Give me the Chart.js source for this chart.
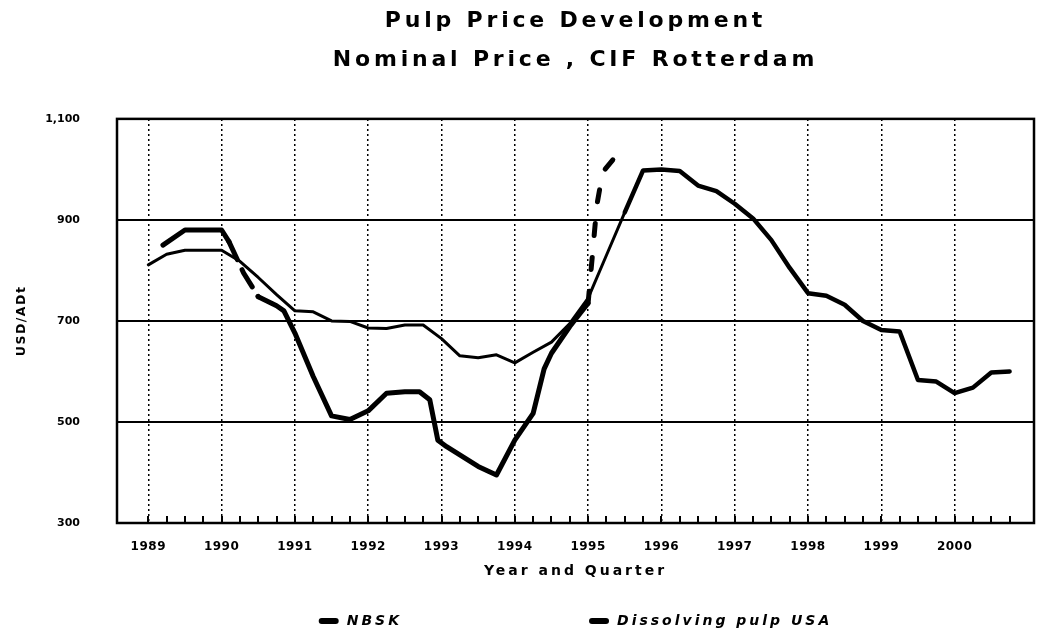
<!DOCTYPE html>
<html>
<head>
<meta charset="utf-8">
<script src="https://cdn.jsdelivr.net/npm/chart.js@4.4.1/dist/chart.umd.min.js"></script>
<style>
  html, body { margin: 0; padding: 0; background: #ffffff; }
  #wrap { width: 1038px; height: 635px; }
</style>
</head>
<body>
<div id="wrap"><canvas id="chart" width="1038" height="635"></canvas></div>
<script>
// ---------------- data ----------------
const titleLines = ['Pulp Price Development', 'Nominal Price , CIF Rotterdam'];
const yAxisTitle = 'USD/ADt';
const xAxisTitle = 'Year and Quarter';
const yearTicks = [1989, 1990, 1991, 1992, 1993, 1994, 1995, 1996, 1997, 1998, 1999, 2000];
const yTicks = [300, 500, 700, 900, 1100];
const quarterNames = ['Q1', 'Q2', 'Q3', 'Q4'];
const quarterLabels = yearTicks.flatMap(y => quarterNames.map(q => y + ' ' + q));

// Dissolving pulp USA, quarterly 1989 Q1 .. 2000 Q4 (USD/ADt)
const dissolvingPulpUSA = [
  811, 832, 840, 840,
  840, 818, 786, 752,
  720, 718, 700, 699,
  686, 685, 692, 692,
  665, 631, 627, 633,
  617, 638, 658, 695,
  745, 830, 915, 998,
  1000, 997, 968, 957,
  932, 903, 860, 805,
  755, 750, 732, 700,
  682, 679, 583, 580,
  557, 568, 598, 600
];

// NBSK, read at the turning points of the curve (decimal year, USD/ADt)
const nbskTime = [1989.2, 1989.5, 1990.0, 1990.1, 1990.3, 1990.5, 1990.75, 1990.85, 1991.0, 1991.25,
  1991.5, 1991.75, 1992.0, 1992.25, 1992.5, 1992.7, 1992.84, 1992.95, 1993.07, 1993.5,
  1993.75, 1994.0, 1994.25, 1994.4, 1994.5, 1994.75, 1995.0, 1995.12, 1995.2, 1995.4];
const nbskPrice = [850, 880, 880, 857, 795, 748, 730, 720, 676, 590,
  512, 505, 522, 557, 560, 560, 544, 464, 451, 412,
  395, 464, 517, 605, 636, 689, 735, 930, 995, 1030];

// ---------------- helpers ----------------
const quarterToYear = label => {
  const [y, q] = label.split(' ');
  return Number(y) + (quarterNames.indexOf(q)) / 4;
};
const quarterPositions = quarterLabels.map(quarterToYear);

const FONT = "'DejaVu Sans', sans-serif";
const LETTER_SPACING = { '22': 3.8, '14': 3, '12.5': 1.5, '12': 0.5, '11': 0 };

const canvas = document.getElementById('chart');
const ctx2d = canvas.getContext('2d');
const nativeFillText = ctx2d.fillText;
ctx2d.fillText = function (...args) {
  const m = /([\d.]+)px/.exec(this.font);
  const sp = m ? LETTER_SPACING[m[1]] : undefined;
  const hasLS = 'letterSpacing' in this;
  const prev = hasLS ? this.letterSpacing : null;
  if (hasLS && sp !== undefined) this.letterSpacing = sp + 'px';
  nativeFillText.apply(this, args);
  if (hasLS) this.letterSpacing = prev;
};

const frameAndTicks = {
  id: 'frameAndTicks',
  beforeDatasetsDraw(chart) {
    const { ctx, chartArea: a, scales: { x } } = chart;
    ctx.save();
    ctx.strokeStyle = '#000';
    ctx.lineWidth = 2;
    quarterPositions.forEach(q => {
      const px = Math.round(x.getPixelForValue(q));
      ctx.beginPath();
      ctx.moveTo(px, a.bottom);
      ctx.lineTo(px, a.bottom - 7);
      ctx.stroke();
    });
    ctx.lineWidth = 2.5;
    ctx.strokeRect(a.left, a.top, a.right - a.left, a.bottom - a.top);
    ctx.restore();
  }
};

const bottomLegend = {
  id: 'bottomLegend',
  afterDraw(chart) {
    const { ctx, chartArea: a } = chart;
    const markerW = 20, markerH = 6, markerGap = 8, itemGap = 187, textY = 621;
    ctx.save();
    ctx.font = 'italic bold 14px ' + FONT;
    const sp = LETTER_SPACING['14'];
    const items = chart.data.datasets.map(ds => {
      const tw = ctx.measureText(ds.label).width + sp * ds.label.length;
      return { text: ds.label, color: ds.borderColor, w: markerW + markerGap + tw };
    });
    const total = items.reduce((s, it) => s + it.w, 0) + itemGap * (items.length - 1);
    let x = (a.left + a.right) / 2 - total / 2;
    ctx.textBaseline = 'middle';
    ctx.textAlign = 'left';
    items.forEach(it => {
      ctx.fillStyle = it.color;
      ctx.beginPath();
      ctx.roundRect(x, textY - markerH / 2, markerW, markerH, 3);
      ctx.fill();
      ctx.fillStyle = '#000';
      ctx.fillText(it.text, x + markerW + markerGap, textY);
      x += it.w + itemGap;
    });
    ctx.restore();
  }
};

new Chart(ctx2d, {
  type: 'line',
  data: {
    datasets: [
      {
        label: 'NBSK',
        data: nbskTime.map((t, i) => ({ x: t, y: nbskPrice[i] })),
        borderColor: '#000',
        backgroundColor: '#000',
        borderWidth: 5,
        pointRadius: 0,
        tension: 0,
        borderCapStyle: 'round',
        borderJoinStyle: 'round',
        segment: {
          borderDash: c => {
            const x0 = c.p0.parsed.x;
            if (x0 >= 1990.1 && x0 < 1990.5) return [20, 11];
            if (x0 >= 1995) return [12, 22];
            return undefined;
          }
        }
      },
      {
        label: 'Dissolving pulp USA',
        data: quarterLabels.map((q, i) => ({ x: quarterToYear(q), y: dissolvingPulpUSA[i] })),
        borderColor: '#000',
        backgroundColor: '#000',
        borderWidth: 3,
        pointRadius: 0,
        tension: 0,
        borderCapStyle: 'round',
        borderJoinStyle: 'round',
        segment: {
          borderWidth: c => (c.p0.parsed.x >= 1995.5 ? 4.5 : undefined)
        }
      }
    ]
  },
  options: {
    responsive: false,
    animation: false,
    events: [],
    layout: { padding: { left: 0, right: 4, top: 0, bottom: 30 } },
    plugins: {
      legend: { display: false },
      tooltip: { enabled: false },
      title: {
        display: true,
        text: titleLines,
        fullSize: false,
        color: '#000',
        font: { family: FONT, size: 22, weight: 'bold', lineHeight: 1.77 },
        padding: { top: 1.5, bottom: 39.5 }
      }
    },
    scales: {
      x: {
        type: 'linear',
        min: 1988.573,
        max: 2001.083,
        afterBuildTicks: s => { s.ticks = yearTicks.map(v => ({ value: v })); },
        afterFit: s => { s.height = 82; },
        ticks: {
          autoSkip: false,
          maxRotation: 0,
          padding: 17,
          color: '#000',
          font: { family: FONT, size: 12, weight: 'bold' },
          callback: v => String(v)
        },
        grid: { color: '#000', lineWidth: 1.5, drawTicks: false },
        border: { display: false, dash: [2, 3] },
        title: {
          display: true,
          text: xAxisTitle,
          color: '#000',
          font: { family: FONT, size: 14, weight: 'bold', lineHeight: 1.2 },
          padding: { top: 4, bottom: 25 }
        }
      },
      y: {
        type: 'linear',
        min: 300,
        max: 1100,
        afterBuildTicks: s => { s.ticks = yTicks.map(v => ({ value: v })); },
        afterFit: s => { s.width = 117; },
        ticks: {
          padding: 37,
          color: '#000',
          font: { family: FONT, size: 11, weight: 'bold' },
          callback: v => Number(v).toLocaleString('en-US')
        },
        grid: { color: '#000', lineWidth: 2, drawTicks: false },
        border: { display: false },
        title: {
          display: true,
          text: yAxisTitle,
          color: '#000',
          font: { family: FONT, size: 12.5, weight: 'bold', lineHeight: 1.2 },
          padding: { top: 14, bottom: 0 }
        }
      }
    }
  },
  plugins: [frameAndTicks, bottomLegend]
});
</script>
</body>
</html>
